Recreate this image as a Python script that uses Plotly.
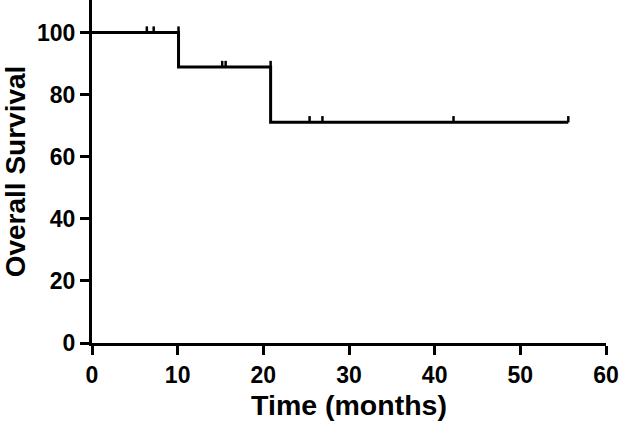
import plotly.graph_objects as go

# Kaplan-Meier step data
step_times = [0, 10.1, 20.85, 55.6]
step_surv = [100, 88.9, 71.1, 71.1]

# censored observations
censor_times = [6.4, 7.2, 10.1, 15.2, 15.6, 20.85, 25.4, 26.9, 42.2, 55.6]
censor_surv = [100, 100, 100, 88.9, 88.9, 88.9, 71.1, 71.1, 71.1, 71.1]
censor_tick_height = [2.0] * len(censor_times)

x_ticks = [0, 10, 20, 30, 40, 50, 60]
y_ticks = [0, 20, 40, 60, 80, 100]

FONT = "Liberation Sans, Arial, sans-serif"

fig = go.Figure()
fig.add_trace(go.Scatter(
    x=step_times, y=step_surv, mode="lines",
    line=dict(shape="hv", color="black", width=3),
    showlegend=False, hoverinfo="skip",
))
fig.add_trace(go.Scatter(
    x=censor_times, y=censor_surv, mode="markers",
    marker=dict(size=1, color="rgba(0,0,0,0)"),
    error_y=dict(type="data", symmetric=False, array=censor_tick_height,
                 arrayminus=[0] * len(censor_times), width=0,
                 thickness=2.5, color="black"),
    showlegend=False, hoverinfo="skip",
))

axis_common = dict(
    showline=True, linecolor="black", linewidth=3,
    ticks="outside", ticklen=9, tickwidth=3, tickcolor="black",
    showgrid=False, zeroline=False, automargin=False,
    tickfont=dict(family=FONT, size=23, color="black", weight="bold"),
)

fig.update_layout(
    width=620, height=425,
    margin=dict(l=92, r=14, t=0, b=82),
    paper_bgcolor="white", plot_bgcolor="white",
    xaxis=dict(range=[0, 60], tickvals=x_ticks,
               title=dict(text="Time (months)", standoff=9,
                          font=dict(family=FONT, size=28.5, color="black", weight="bold")),
               **axis_common),
    yaxis=dict(range=[0, 110.5], tickvals=y_ticks,
               title=dict(text="Overall Survival", standoff=7,
                          font=dict(family=FONT, size=28, color="black", weight="bold")),
               **axis_common),
)

fig.write_html("out.html", config={"displayModeBar": False},
               post_script="document.body.style.margin='0';document.body.style.overflow='hidden';")
